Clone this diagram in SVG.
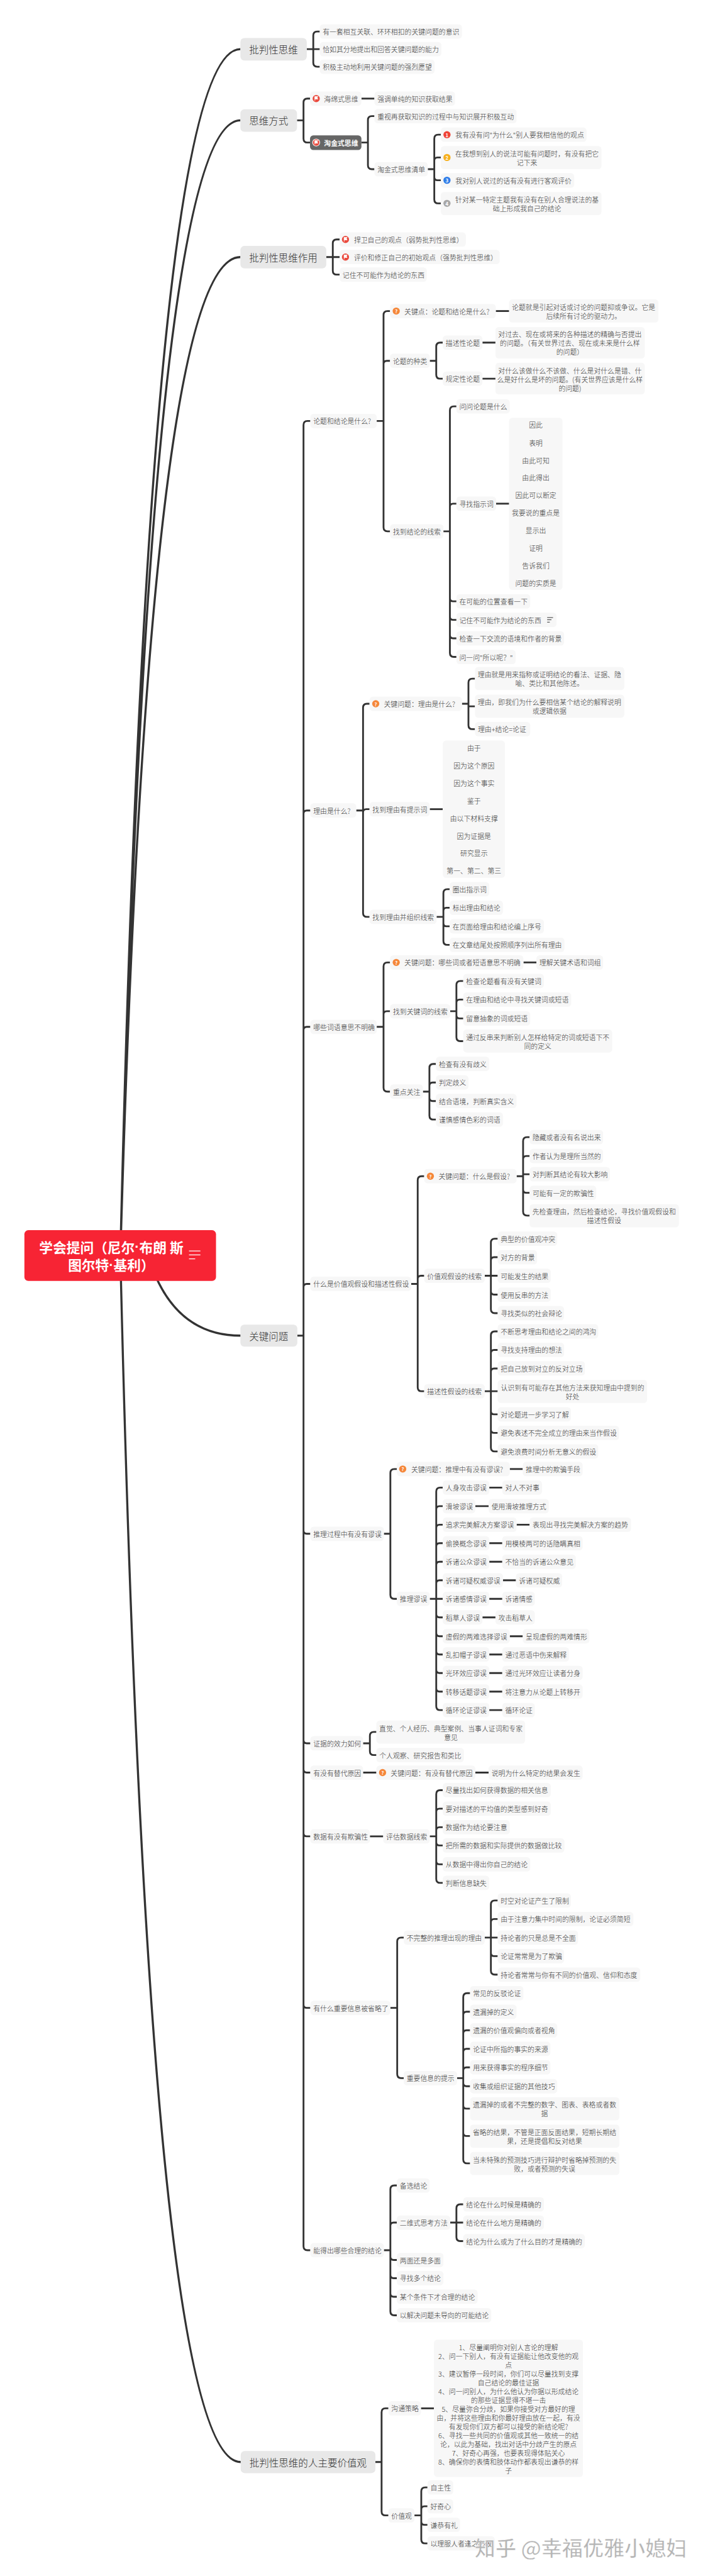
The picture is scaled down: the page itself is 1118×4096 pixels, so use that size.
<svg xmlns="http://www.w3.org/2000/svg" xmlns:xlink="http://www.w3.org/1999/xlink" width="1118" height="4096" viewBox="0 0 1118 4096">
<style>
text{font-family:"Noto Sans CJK SC","Microsoft YaHei",sans-serif;font-weight:300;fill:#333;dominant-baseline:central}
.t{font-size:21px}
.m{font-size:21px;text-anchor:middle}
.l{font-size:30px}
.b{fill:#f7f7f7;rx:10px}
.h{fill:#e8e8e8;rx:12px}
.d{fill:#666;rx:10px}
.c{fill:none;stroke:#333;stroke-width:5.5}
.w{font-size:21px;fill:#fff;font-weight:700}
.i{font-size:15px;fill:#fff;font-weight:700;text-anchor:middle}
.dot{font-family:"Liberation Sans",sans-serif}
</style>
<defs>
<g id="flag"><circle r="11" fill="#ea4a3e"/><path d="M-4-6.5V7M-4-6.5H5L3-2.5L5 1.5H-4Z" fill="#fff" stroke="#fff" stroke-width="1.5"/></g>
<g id="flagd"><circle r="12" fill="#fff"/><circle r="10" fill="#ea4a3e"/><path d="M-4-6V6M-4-6H5L3-2L5 2H-4Z" fill="#fff" stroke="#fff" stroke-width="1.5"/></g>
<g id="q"><circle r="11" fill="#f5873a"/><text class="i" y="0">?</text></g>
<g id="note" fill="none" stroke="#333" stroke-width="2"><path d="M0 0H18M0 7H13M0 14H8"/></g>
</defs>
<g transform="scale(.51735)">
<g id="connectors">
<path class="c" style="stroke-width:6.5" d="M370 3859Q457 151 739 151M370 3859Q457 370 739 370M370 3859Q457 790 739 790M370 3859Q457 7567 740 7567M455 3859Q530 4105 740 4105"/>
<path class="c" d="M943 151H983M983 97H975Q963 97 963 109V193Q963 205 975 205H983"/>
<path class="c" d="M913 370H933M953 303H945Q933 303 933 315V426Q933 438 945 438H953"/>
<path class="c" d="M1111 303H1151"/>
<path class="c" d="M1111 438H1131M1151 357H1143Q1131 357 1131 369V508Q1131 520 1143 520H1151"/>
<path class="c" d="M1315 520H1335M1355 414H1347Q1335 414 1335 426V613Q1335 625 1347 625H1355M1335 494Q1335 484 1345 484H1355M1335 544Q1335 554 1345 554H1355"/>
<path class="c" d="M1003 790H1044M1044 736H1035Q1023 736 1023 748V832Q1023 844 1035 844H1044"/>
<path class="c" d="M914 4105H933M954 1294H945Q933 1294 933 1306V6904Q933 6916 945 6916H954M933 2501Q933 2491 943 2491H954M933 3166Q933 3156 943 3156H954M933 3956Q933 3946 943 3946H954M933 4704Q933 4714 943 4714H954M933 5348Q933 5358 943 5358H954M933 5438Q933 5448 943 5448H954M933 5634Q933 5644 943 5644H954M933 6161Q933 6171 943 6171H954"/>
<path class="c" d="M1158 1294H1179M1199 956H1191Q1179 956 1179 968V1621Q1179 1633 1191 1633H1199M1179 1119Q1179 1109 1189 1109H1199"/>
<path class="c" d="M1524 956H1565"/>
<path class="c" d="M1321 1109H1341M1361 1053H1353Q1341 1053 1341 1065V1152Q1341 1164 1353 1164H1361"/>
<path class="c" d="M1483 1053H1523M1483 1164H1523"/>
<path class="c" d="M1363 1633H1383M1403 1249H1395Q1383 1249 1383 1261V2007Q1383 2019 1395 2019H1403M1383 1558Q1383 1548 1393 1548H1403M1383 1838Q1383 1848 1393 1848H1403M1383 1895Q1383 1905 1393 1905H1403M1383 1952Q1383 1962 1393 1962H1403"/>
<path class="c" d="M1525 1548H1565"/>
<path class="c" d="M1095 2491H1116M1136 2163H1128Q1116 2163 1116 2175V2806Q1116 2818 1128 2818H1136M1116 2497Q1116 2487 1126 2487H1136"/>
<path class="c" d="M1420 2163H1440M1460 2086H1452Q1440 2086 1440 2098V2229Q1440 2241 1452 2241H1460M1440 2171H1460"/>
<path class="c" d="M1321 2487H1361"/>
<path class="c" d="M1342 2818H1363M1382 2733H1375Q1363 2733 1363 2745V2892Q1363 2904 1375 2904H1382M1363 2800Q1363 2790 1372 2790H1382M1363 2837Q1363 2847 1372 2847H1382"/>
<path class="c" d="M1158 3156H1179M1199 2958H1191Q1179 2958 1179 2970V3343Q1179 3355 1191 3355H1199M1179 3118Q1179 3108 1189 3108H1199"/>
<path class="c" d="M1609 2958H1649"/>
<path class="c" d="M1384 3108H1403M1424 3015H1415Q1403 3015 1403 3027V3188Q1403 3200 1415 3200H1424M1403 3082Q1403 3072 1413 3072H1424M1403 3120Q1403 3130 1413 3130H1424"/>
<path class="c" d="M1300 3355H1320M1340 3270H1332Q1320 3270 1320 3282V3429Q1320 3441 1332 3441H1340M1320 3337Q1320 3327 1330 3327H1340M1320 3374Q1320 3384 1330 3384H1340"/>
<path class="c" d="M1264 3946H1284M1304 3615H1296Q1284 3615 1284 3627V4264Q1284 4276 1296 4276H1304M1284 3931Q1284 3921 1294 3921H1304"/>
<path class="c" d="M1588 3615H1608M1628 3495H1620Q1608 3495 1608 3507V3724Q1608 3736 1620 3736H1628M1608 3563Q1608 3553 1618 3553H1628M1608 3609H1628M1608 3656Q1608 3666 1618 3666H1628"/>
<path class="c" d="M1490 3921H1509M1530 3807H1521Q1509 3807 1509 3819V4024Q1509 4036 1521 4036H1530M1509 3874Q1509 3864 1519 3864H1530M1509 3921H1530M1509 3969Q1509 3979 1519 3979H1530"/>
<path class="c" d="M1490 4276H1509M1530 4092H1521Q1509 4092 1509 4104V4449Q1509 4461 1521 4461H1530M1509 4159Q1509 4149 1519 4149H1530M1509 4216Q1509 4206 1519 4206H1530M1509 4276H1530M1509 4337Q1509 4347 1519 4347H1530M1509 4394Q1509 4404 1519 4404H1530"/>
<path class="c" d="M1180 4714H1200M1220 4515H1212Q1200 4515 1200 4527V4902Q1200 4914 1212 4914H1220"/>
<path class="c" d="M1567 4515H1607"/>
<path class="c" d="M1321 4914H1361M1361 4572H1353Q1341 4572 1341 4584V5244Q1341 5256 1353 5256H1361M1341 4639Q1341 4629 1351 4629H1361M1341 4696Q1341 4686 1351 4686H1361M1341 4753Q1341 4743 1351 4743H1361M1341 4810Q1341 4800 1351 4800H1361M1341 4867Q1341 4857 1351 4857H1361M1341 4961Q1341 4971 1351 4971H1361M1341 5019Q1341 5029 1351 5029H1361M1341 5075Q1341 5085 1351 5085H1361M1341 5132Q1341 5142 1351 5142H1361M1341 5189Q1341 5199 1351 5199H1361"/>
<path class="c" d="M1504 4572H1544M1461 4629H1502M1588 4686H1628M1504 4743H1544M1504 4800H1544M1546 4857H1586M1504 4914H1544M1483 4971H1523M1567 5029H1607M1504 5085H1544M1504 5142H1544M1504 5199H1544M1504 5256H1544"/>
<path class="c" d="M1116 5358H1137M1157 5323H1149Q1137 5323 1137 5335V5382Q1137 5394 1149 5394H1157"/>
<path class="c" d="M1116 5448H1157M1461 5448H1502"/>
<path class="c" d="M1137 5644H1178"/>
<path class="c" d="M1321 5644H1341M1361 5502H1353Q1341 5502 1341 5514V5775Q1341 5787 1353 5787H1361M1341 5569Q1341 5559 1351 5559H1361M1341 5626Q1341 5616 1351 5616H1361M1341 5662Q1341 5672 1351 5672H1361M1341 5720Q1341 5730 1351 5730H1361"/>
<path class="c" d="M1200 6171H1221M1241 5955H1233Q1221 5955 1221 5967V6375Q1221 6387 1233 6387H1241"/>
<path class="c" d="M1490 5955H1509M1530 5841H1521Q1509 5841 1509 5853V6057Q1509 6069 1521 6069H1530M1509 5908Q1509 5898 1519 5898H1530M1509 5955H1530M1509 6002Q1509 6012 1519 6012H1530"/>
<path class="c" d="M1405 6387H1424M1445 6126H1436Q1424 6126 1424 6138V6637Q1424 6649 1436 6649H1445M1424 6193Q1424 6183 1434 6183H1445M1424 6250Q1424 6240 1434 6240H1445M1424 6307Q1424 6297 1434 6297H1445M1424 6364Q1424 6354 1434 6354H1445M1424 6402Q1424 6412 1434 6412H1445M1424 6471Q1424 6481 1434 6481H1445M1424 6555Q1424 6565 1434 6565H1445"/>
<path class="c" d="M1180 6916H1200M1220 6717H1212Q1200 6717 1200 6729V7104Q1200 7116 1212 7116H1220M1200 6841Q1200 6831 1210 6831H1220M1200 6936Q1200 6946 1210 6946H1220M1200 6992Q1200 7002 1210 7002H1220M1200 7049Q1200 7059 1210 7059H1220"/>
<path class="c" d="M1384 6831H1424M1424 6775H1415Q1403 6775 1403 6787V6876Q1403 6888 1415 6888H1424"/>
<path class="c" d="M1154 7567H1173M1194 7402H1185Q1173 7402 1173 7414V7719Q1173 7731 1185 7731H1194"/>
<path class="c" d="M1294 7402H1334"/>
<path class="c" d="M1274 7731H1295M1314 7645H1307Q1295 7645 1295 7657V7805Q1295 7817 1307 7817H1314M1295 7713Q1295 7703 1305 7703H1314M1295 7750Q1295 7760 1305 7760H1314"/>
</g>

<g id="root"><rect x="75" y="3781" width="589" height="156" rx="12" fill="#f72434"/><text x="342" y="3832" text-anchor="middle" font-size="42" style="font-weight:700;fill:#fff">学会提问（尼尔<tspan class="dot">·</tspan>布朗 斯</text><text x="342" y="3887" text-anchor="middle" font-size="42" style="font-weight:700;fill:#fff">图尔特<tspan class="dot">·</tspan>基利）</text><path d="M581 3845H616M581 3857H616M581 3869H600" stroke="#fff" stroke-width="2.5" fill="none"/></g>

<g id="l1a"><rect class="h" x="739" y="117" width="204" height="69"/><text class="l" x="766" y="151">批判性思维</text></g>
<g id="n1"><rect class="b" x="983" y="75" width="437" height="44"/><text class="t" x="992" y="97">有一套相互关联、环环相扣的关键问题的意识</text></g>
<g id="n2"><rect class="b" x="983" y="129" width="374" height="44"/><text class="t" x="992" y="151">恰如其分地提出和回答关键问题的能力</text></g>
<g id="n3"><rect class="b" x="983" y="183" width="353" height="44"/><text class="t" x="992" y="205">积极主动地利用关键问题的强烈愿望</text></g>

<g id="l1b"><rect class="h" x="739" y="336" width="174" height="69"/><text class="l" x="766" y="370">思维方式</text></g>
<g id="n4"><rect class="b" x="953" y="281" width="158" height="44"/><use href="#flag" x="972" y="303"/><text class="t" x="996" y="303">海绵式思维</text></g>
<g id="n5"><rect class="b" x="1151" y="281" width="248" height="44"/><text class="t" x="1160" y="303">强调单纯的知识获取结果</text></g>
<g id="n6"><rect class="d" x="953" y="416" width="158" height="45"/><use href="#flagd" x="972" y="438"/><text class="w" x="996" y="438">淘金式思维</text></g>
<g id="n7"><rect class="b" x="1151" y="335" width="437" height="44"/><text class="t" x="1160" y="357">重视再获取知识的过程中与知识展开积极互动</text></g>
<g id="n8"><rect class="b" x="1151" y="498" width="164" height="44"/><text class="t" x="1160" y="520">淘金式思维清单</text></g>
<g id="n9"><rect class="b" x="1355" y="392" width="448" height="44"/><circle cx="1374" cy="414" r="11" fill="#ef4437"/><text class="i" x="1374" y="414">1</text><text class="t" x="1400" y="414">我有没有问"为什么"别人要我相信他的观点</text></g>
<g id="n10"><rect class="b" x="1355" y="449" width="494" height="71"/><circle cx="1374" cy="484" r="11" fill="#f6b01e"/><text class="i" x="1374" y="484">2</text><text class="m" x="1620" y="471">在我想到别人的说法可能有问题时，有没有把它</text><text class="m" x="1620" y="498">记下来</text></g>
<g id="n11"><rect class="b" x="1355" y="532" width="410" height="45"/><circle cx="1374" cy="554" r="11" fill="#2f7de8"/><text class="i" x="1374" y="554">3</text><text class="t" x="1400" y="554">我对别人说过的话有没有进行客观评价</text></g>
<g id="n12"><rect class="b" x="1355" y="590" width="494" height="71"/><circle cx="1374" cy="625" r="11" fill="#a8a8a8"/><text class="i" x="1374" y="625">4</text><text class="m" x="1620" y="612">针对某一特定主题我有没有在别人合理说法的基</text><text class="m" x="1620" y="639">础上形成我自己的结论</text></g>

<g id="l1c"><rect class="h" x="739" y="756" width="264" height="69"/><text class="l" x="766" y="790">批判性思维作用</text></g>
<g id="n13"><rect class="b" x="1044" y="714" width="388" height="44"/><use href="#flag" x="1062" y="736"/><text class="t" x="1088" y="736">捍卫自己的观点（弱势批判性思维）</text></g>
<g id="n14"><rect class="b" x="1044" y="768" width="492" height="44"/><use href="#flag" x="1062" y="790"/><text class="t" x="1088" y="790">评价和修正自己的初始观点（强势批判性思维）</text></g>
<g id="n15"><rect class="b" x="1044" y="822" width="268" height="44"/><text class="t" x="1053" y="844">记住不可能作为结论的东西</text></g>

<g id="l1d"><rect class="h" x="739" y="4071" width="175" height="68"/><text class="l" x="766" y="4105">关键问题</text></g>

<g id="a0"><rect class="b" x="954" y="1272" width="204" height="44"/><text class="t" x="963" y="1294">论题和结论是什么?</text></g>
<g id="a1"><rect class="b" x="1199" y="934" width="325" height="44"/><use href="#q" x="1218" y="956"/><text class="t" x="1243" y="956">关键点：论题和结论是什么?</text></g>
<g id="a2"><rect class="b" x="1565" y="920" width="459" height="71"/><text class="m" x="1794" y="943">论题就是引起对话或讨论的问题抑或争议。它是</text><text class="m" x="1794" y="970">后续所有讨论的驱动力。</text></g>
<g id="a3"><rect class="b" x="1199" y="1087" width="122" height="44"/><text class="t" x="1208" y="1109">论题的种类</text></g>
<g id="a4"><rect class="b" x="1361" y="1031" width="122" height="44"/><text class="t" x="1370" y="1053">描述性论题</text></g>
<g id="a5"><rect class="b" x="1523" y="1005" width="459" height="97"/><text class="m" x="1752" y="1027">对过去、现在或将来的各种描述的精确与否提出</text><text class="m" x="1752" y="1054">的问题。（有关世界过去、现在或未来是什么样</text><text class="m" x="1752" y="1081">的问题）</text></g>
<g id="a6"><rect class="b" x="1361" y="1142" width="122" height="44"/><text class="t" x="1370" y="1164">规定性论题</text></g>
<g id="a7"><rect class="b" x="1523" y="1115" width="459" height="97"/><text class="m" x="1752" y="1138">对什么该做什么不该做、什么是对什么是错、什</text><text class="m" x="1752" y="1165">么是好什么是坏的问题。(有关世界应该是什么样</text><text class="m" x="1752" y="1192">的问题)</text></g>
<g id="a8"><rect class="b" x="1199" y="1611" width="164" height="44"/><text class="t" x="1208" y="1633">找到结论的线索</text></g>
<g id="a9"><rect class="b" x="1403" y="1227" width="164" height="44"/><text class="t" x="1412" y="1249">问问论题是什么</text></g>
<g id="a10"><rect class="b" x="1403" y="1526" width="122" height="44"/><text class="t" x="1412" y="1548">寻找指示词</text></g>
<g id="a11"><rect class="b" x="1565" y="1284" width="164" height="529"/><text class="m" x="1647" y="1305">因此</text><text class="m" x="1647" y="1360">表明</text><text class="m" x="1647" y="1414">由此可知</text><text class="m" x="1647" y="1468">由此得出</text><text class="m" x="1647" y="1522">因此可以断定</text><text class="m" x="1647" y="1576">我要说的重点是</text><text class="m" x="1647" y="1630">显示出</text><text class="m" x="1647" y="1684">证明</text><text class="m" x="1647" y="1738">告诉我们</text><text class="m" x="1647" y="1792">问题的实质是</text></g>
<g id="a12"><rect class="b" x="1403" y="1826" width="227" height="44"/><text class="t" x="1412" y="1848">在可能的位置查看一下</text></g>
<g id="a13"><rect class="b" x="1403" y="1883" width="308" height="44"/><text class="t" x="1412" y="1905">记住不可能作为结论的东西</text><use href="#note" x="1682" y="1898"/></g>
<g id="a14"><rect class="b" x="1403" y="1940" width="331" height="44"/><text class="t" x="1412" y="1962">检查一下交流的语境和作者的背景</text></g>
<g id="a15"><rect class="b" x="1403" y="1997" width="182" height="44"/><text class="t" x="1412" y="2019">问一问"所以呢？"</text></g>

<g id="b0"><rect class="b" x="954" y="2469" width="141" height="44"/><text class="t" x="963" y="2491">理由是什么?</text></g>
<g id="b1"><rect class="b" x="1136" y="2141" width="284" height="44"/><use href="#q" x="1155" y="2163"/><text class="t" x="1180" y="2163">关键问题：理由是什么?</text></g>
<g id="b2"><rect class="b" x="1460" y="2050" width="459" height="71"/><text class="m" x="1689" y="2073">理由就是用来指称或证明结论的看法、证据、隐</text><text class="m" x="1689" y="2100">喻、类比和其他陈述。</text></g>
<g id="b3"><rect class="b" x="1460" y="2135" width="459" height="71"/><text class="m" x="1689" y="2157">理由，即我们为什么要相信某个结论的解释说明</text><text class="m" x="1689" y="2185">或逻辑依据</text></g>
<g id="b4"><rect class="b" x="1460" y="2219" width="170" height="44"/><text class="t" x="1469" y="2241">理由+结论=论证</text></g>
<g id="b5"><rect class="b" x="1136" y="2465" width="185" height="44"/><text class="t" x="1145" y="2487">找到理由有提示词</text></g>
<g id="b6"><rect class="b" x="1361" y="2276" width="191" height="422"/><text class="m" x="1457" y="2298">由于</text><text class="m" x="1457" y="2352">因为这个原因</text><text class="m" x="1457" y="2406">因为这个事实</text><text class="m" x="1457" y="2460">鉴于</text><text class="m" x="1457" y="2514">由以下材料支撑</text><text class="m" x="1457" y="2568">因为证据是</text><text class="m" x="1457" y="2622">研究显示</text><text class="m" x="1457" y="2676">第一、第二、第三</text></g>
<g id="b7"><rect class="b" x="1136" y="2796" width="206" height="44"/><text class="t" x="1145" y="2818">找到理由并组织线索</text></g>
<g id="b8"><rect class="b" x="1382" y="2711" width="122" height="44"/><text class="t" x="1391" y="2733">圈出指示词</text></g>
<g id="b9"><rect class="b" x="1382" y="2768" width="164" height="44"/><text class="t" x="1391" y="2790">标出理由和结论</text></g>
<g id="b10"><rect class="b" x="1382" y="2825" width="290" height="44"/><text class="t" x="1391" y="2847">在页面给理由和结论编上序号</text></g>
<g id="b11"><rect class="b" x="1382" y="2882" width="353" height="44"/><text class="t" x="1391" y="2904">在文章结尾处按照顺序列出所有理由</text></g>

<g id="c0"><rect class="b" x="954" y="3134" width="204" height="44"/><text class="t" x="963" y="3156">哪些词语意思不明确</text></g>
<g id="c1"><rect class="b" x="1199" y="2936" width="410" height="44"/><use href="#q" x="1218" y="2958"/><text class="t" x="1243" y="2958">关键问题：哪些词或者短语意思不明确</text></g>
<g id="c2"><rect class="b" x="1649" y="2936" width="205" height="44"/><text class="t" x="1658" y="2958">理解关键术语和词组</text></g>
<g id="c3"><rect class="b" x="1199" y="3086" width="185" height="44"/><text class="t" x="1208" y="3108">找到关键词的线索</text></g>
<g id="c4"><rect class="b" x="1424" y="2993" width="248" height="44"/><text class="t" x="1433" y="3015">检查论题看有没有关键词</text></g>
<g id="c5"><rect class="b" x="1424" y="3050" width="332" height="44"/><text class="t" x="1433" y="3072">在理由和结论中寻找关键词或短语</text></g>
<g id="c6"><rect class="b" x="1424" y="3108" width="206" height="44"/><text class="t" x="1433" y="3130">留意抽象的词或短语</text></g>
<g id="c7"><rect class="b" x="1424" y="3164" width="458" height="71"/><text class="m" x="1653" y="3187">通过反串来判断别人怎样给特定的词或短语下不</text><text class="m" x="1653" y="3214">同的定义</text></g>
<g id="c8"><rect class="b" x="1199" y="3333" width="101" height="44"/><text class="t" x="1208" y="3355">重点关注</text></g>
<g id="c9"><rect class="b" x="1340" y="3248" width="164" height="44"/><text class="t" x="1349" y="3270">检查有没有歧义</text></g>
<g id="c10"><rect class="b" x="1340" y="3305" width="100" height="44"/><text class="t" x="1349" y="3327">判定歧义</text></g>
<g id="c11"><rect class="b" x="1340" y="3362" width="248" height="44"/><text class="t" x="1349" y="3384">结合语境，判断真实含义</text></g>
<g id="c12"><rect class="b" x="1340" y="3419" width="206" height="44"/><text class="t" x="1349" y="3441">谨慎感情色彩的词语</text></g>

<g id="d0"><rect class="b" x="954" y="3924" width="310" height="44"/><text class="t" x="963" y="3946">什么是价值观假设和描述性假设</text></g>
<g id="d1"><rect class="b" x="1304" y="3593" width="284" height="44"/><use href="#q" x="1323" y="3615"/><text class="t" x="1348" y="3615">关键问题：什么是假设?</text></g>
<g id="d2"><rect class="b" x="1628" y="3473" width="226" height="44"/><text class="t" x="1637" y="3495">隐藏或者没有名说出来</text></g>
<g id="d3"><rect class="b" x="1628" y="3531" width="226" height="44"/><text class="t" x="1637" y="3553">作者认为是理所当然的</text></g>
<g id="d4"><rect class="b" x="1628" y="3587" width="247" height="44"/><text class="t" x="1637" y="3609">对判断其结论有较大影响</text></g>
<g id="d5"><rect class="b" x="1628" y="3644" width="205" height="44"/><text class="t" x="1637" y="3666">可能有一定的欺骗性</text></g>
<g id="d6"><rect class="b" x="1628" y="3701" width="459" height="71"/><text class="m" x="1857" y="3723">先检查理由，然后检查结论，寻找价值观假设和</text><text class="m" x="1857" y="3750">描述性假设</text></g>
<g id="d7"><rect class="b" x="1304" y="3899" width="186" height="44"/><text class="t" x="1313" y="3921">价值观假设的线索</text></g>
<g id="d8"><rect class="b" x="1530" y="3785" width="183" height="44"/><text class="t" x="1539" y="3807">典型的价值观冲突</text></g>
<g id="d9"><rect class="b" x="1530" y="3842" width="121" height="44"/><text class="t" x="1539" y="3864">对方的背景</text></g>
<g id="d10"><rect class="b" x="1530" y="3899" width="163" height="44"/><text class="t" x="1539" y="3921">可能发生的结果</text></g>
<g id="d11"><rect class="b" x="1530" y="3957" width="163" height="44"/><text class="t" x="1539" y="3979">使用反串的方法</text></g>
<g id="d12"><rect class="b" x="1530" y="4014" width="204" height="44"/><text class="t" x="1539" y="4036">寻找类似的社会辩论</text></g>
<g id="d13"><rect class="b" x="1304" y="4254" width="186" height="44"/><text class="t" x="1313" y="4276">描述性假设的线索</text></g>
<g id="d14"><rect class="b" x="1530" y="4070" width="309" height="44"/><text class="t" x="1539" y="4092">不断思考理由和结论之间的鸿沟</text></g>
<g id="d15"><rect class="b" x="1530" y="4127" width="204" height="44"/><text class="t" x="1539" y="4149">寻找支持理由的想法</text></g>
<g id="d16"><rect class="b" x="1530" y="4184" width="268" height="44"/><text class="t" x="1539" y="4206">把自己放到对立的反对立场</text></g>
<g id="d17"><rect class="b" x="1530" y="4241" width="459" height="71"/><text class="m" x="1760" y="4264">认识到有可能存在其他方法来获知理由中提到的</text><text class="m" x="1760" y="4291">好处</text></g>
<g id="d18"><rect class="b" x="1530" y="4325" width="225" height="44"/><text class="t" x="1539" y="4347">对论题进一步学习了解</text></g>
<g id="d19"><rect class="b" x="1530" y="4382" width="373" height="44"/><text class="t" x="1539" y="4404">避免表述不完全成立的理由来当作假设</text></g>
<g id="d20"><rect class="b" x="1530" y="4439" width="309" height="44"/><text class="t" x="1539" y="4461">避免浪费时间分析无意义的假设</text></g>

<g id="e0"><rect class="b" x="954" y="4692" width="226" height="44"/><text class="t" x="963" y="4714">推理过程中有没有谬误</text></g>
<g id="e1"><rect class="b" x="1220" y="4493" width="347" height="44"/><use href="#q" x="1238" y="4515"/><text class="t" x="1264" y="4515">关键问题：推理中有没有谬误?</text></g>
<g id="e2"><rect class="b" x="1607" y="4493" width="184" height="44"/><text class="t" x="1616" y="4515">推理中的欺骗手段</text></g>
<g id="e3"><rect class="b" x="1220" y="4892" width="101" height="44"/><text class="t" x="1229" y="4914">推理谬误</text></g>
<g id="e4"><rect class="b" x="1361" y="4550" width="143" height="44"/><text class="t" x="1370" y="4572">人身攻击谬误</text></g>
<g id="e5"><rect class="b" x="1544" y="4550" width="122" height="44"/><text class="t" x="1553" y="4572">对人不对事</text></g>
<g id="e6"><rect class="b" x="1361" y="4607" width="100" height="44"/><text class="t" x="1370" y="4629">滑坡谬误</text></g>
<g id="e7"><rect class="b" x="1502" y="4607" width="185" height="44"/><text class="t" x="1511" y="4629">使用滑坡推理方式</text></g>
<g id="e8"><rect class="b" x="1361" y="4664" width="227" height="44"/><text class="t" x="1370" y="4686">追求完美解决方案谬误</text></g>
<g id="e9"><rect class="b" x="1628" y="4664" width="312" height="44"/><text class="t" x="1637" y="4686">表现出寻找完美解决方案的趋势</text></g>
<g id="e10"><rect class="b" x="1361" y="4721" width="143" height="44"/><text class="t" x="1370" y="4743">偷换概念谬误</text></g>
<g id="e11"><rect class="b" x="1544" y="4721" width="247" height="44"/><text class="t" x="1553" y="4743">用模棱两可的话隐瞒真相</text></g>
<g id="e12"><rect class="b" x="1361" y="4778" width="143" height="44"/><text class="t" x="1370" y="4800">诉诸公众谬误</text></g>
<g id="e13"><rect class="b" x="1544" y="4778" width="226" height="44"/><text class="t" x="1553" y="4800">不恰当的诉诸公众意见</text></g>
<g id="e14"><rect class="b" x="1361" y="4835" width="185" height="44"/><text class="t" x="1370" y="4857">诉诸可疑权威谬误</text></g>
<g id="e15"><rect class="b" x="1586" y="4835" width="142" height="44"/><text class="t" x="1595" y="4857">诉诸可疑权威</text></g>
<g id="e16"><rect class="b" x="1361" y="4892" width="143" height="44"/><text class="t" x="1370" y="4914">诉诸感情谬误</text></g>
<g id="e17"><rect class="b" x="1544" y="4892" width="100" height="44"/><text class="t" x="1553" y="4914">诉诸情感</text></g>
<g id="e18"><rect class="b" x="1361" y="4949" width="122" height="44"/><text class="t" x="1370" y="4971">稻草人谬误</text></g>
<g id="e19"><rect class="b" x="1523" y="4949" width="121" height="44"/><text class="t" x="1532" y="4971">攻击稻草人</text></g>
<g id="e20"><rect class="b" x="1361" y="5007" width="206" height="44"/><text class="t" x="1370" y="5029">虚假的两难选择谬误</text></g>
<g id="e21"><rect class="b" x="1607" y="5007" width="205" height="44"/><text class="t" x="1616" y="5029">呈现虚假的两难情形</text></g>
<g id="e22"><rect class="b" x="1361" y="5063" width="143" height="44"/><text class="t" x="1370" y="5085">乱扣帽子谬误</text></g>
<g id="e23"><rect class="b" x="1544" y="5063" width="205" height="44"/><text class="t" x="1553" y="5085">通过恶语中伤来解释</text></g>
<g id="e24"><rect class="b" x="1361" y="5120" width="143" height="44"/><text class="t" x="1370" y="5142">光环效应谬误</text></g>
<g id="e25"><rect class="b" x="1544" y="5120" width="247" height="44"/><text class="t" x="1553" y="5142">通过光环效应让读者分身</text></g>
<g id="e26"><rect class="b" x="1361" y="5177" width="143" height="44"/><text class="t" x="1370" y="5199">转移话题谬误</text></g>
<g id="e27"><rect class="b" x="1544" y="5177" width="247" height="44"/><text class="t" x="1553" y="5199">将注意力从论题上转移开</text></g>
<g id="e28"><rect class="b" x="1361" y="5234" width="143" height="44"/><text class="t" x="1370" y="5256">循环论证谬误</text></g>
<g id="e29"><rect class="b" x="1544" y="5234" width="100" height="44"/><text class="t" x="1553" y="5256">循环论证</text></g>

<g id="f0"><rect class="b" x="954" y="5336" width="162" height="44"/><text class="t" x="963" y="5358">证据的效力如何</text></g>
<g id="f1"><rect class="b" x="1157" y="5288" width="457" height="71"/><text class="m" x="1386" y="5311">直觉、个人经历、典型案例、当事人证词和专家</text><text class="m" x="1386" y="5338">意见</text></g>
<g id="f2"><rect class="b" x="1157" y="5372" width="269" height="44"/><text class="t" x="1166" y="5394">个人观察、研究报告和类比</text></g>
<g id="g0"><rect class="b" x="954" y="5426" width="162" height="44"/><text class="t" x="963" y="5448">有没有替代原因</text></g>
<g id="g1"><rect class="b" x="1157" y="5426" width="304" height="44"/><use href="#q" x="1176" y="5448"/><text class="t" x="1201" y="5448">关键问题：有没有替代原因</text></g>
<g id="g2"><rect class="b" x="1502" y="5426" width="289" height="44"/><text class="t" x="1511" y="5448">说明为什么特定的结果会发生</text></g>

<g id="h0"><rect class="b" x="954" y="5622" width="183" height="44"/><text class="t" x="963" y="5644">数据有没有欺骗性</text></g>
<g id="h1"><rect class="b" x="1178" y="5622" width="143" height="44"/><text class="t" x="1187" y="5644">评估数据线索</text></g>
<g id="h2"><rect class="b" x="1361" y="5480" width="332" height="44"/><text class="t" x="1370" y="5502">尽量找出如何获得数据的相关信息</text></g>
<g id="h3"><rect class="b" x="1361" y="5537" width="332" height="44"/><text class="t" x="1370" y="5559">要对描述的平均值的类型感到好奇</text></g>
<g id="h4"><rect class="b" x="1361" y="5594" width="206" height="44"/><text class="t" x="1370" y="5616">数据作为结论要注意</text></g>
<g id="h5"><rect class="b" x="1361" y="5650" width="374" height="44"/><text class="t" x="1370" y="5672">把所需的数据和实际提供的数据做比较</text></g>
<g id="h6"><rect class="b" x="1361" y="5708" width="269" height="44"/><text class="t" x="1370" y="5730">从数据中得出你自己的结论</text></g>
<g id="h7"><rect class="b" x="1361" y="5765" width="143" height="44"/><text class="t" x="1370" y="5787">判断信息缺失</text></g>

<g id="i0"><rect class="b" x="954" y="6149" width="246" height="44"/><text class="t" x="963" y="6171">有什么重要信息被省略了</text></g>
<g id="i1"><rect class="b" x="1241" y="5933" width="249" height="44"/><text class="t" x="1250" y="5955">不完整的推理出现的理由</text></g>
<g id="i2"><rect class="b" x="1530" y="5819" width="225" height="44"/><text class="t" x="1539" y="5841">时空对论证产生了限制</text></g>
<g id="i3"><rect class="b" x="1530" y="5876" width="417" height="44"/><text class="t" x="1539" y="5898">由于注意力集中时间的限制，论证必须简短</text></g>
<g id="i4"><rect class="b" x="1530" y="5933" width="247" height="44"/><text class="t" x="1539" y="5955">持论者的只是总是不全面</text></g>
<g id="i5"><rect class="b" x="1530" y="5990" width="204" height="44"/><text class="t" x="1539" y="6012">论证常常是为了欺骗</text></g>
<g id="i6"><rect class="b" x="1530" y="6047" width="438" height="44"/><text class="t" x="1539" y="6069">持论者常常与你有不同的价值观、信仰和态度</text></g>
<g id="i7"><rect class="b" x="1241" y="6365" width="164" height="44"/><text class="t" x="1250" y="6387">重要信息的提示</text></g>
<g id="i8"><rect class="b" x="1445" y="6104" width="164" height="44"/><text class="t" x="1454" y="6126">常见的反驳论证</text></g>
<g id="i9"><rect class="b" x="1445" y="6161" width="143" height="44"/><text class="t" x="1454" y="6183">遗漏掉的定义</text></g>
<g id="i10"><rect class="b" x="1445" y="6218" width="268" height="44"/><text class="t" x="1454" y="6240">遗漏的价值观偏向或者视角</text></g>
<g id="i11"><rect class="b" x="1445" y="6275" width="247" height="44"/><text class="t" x="1454" y="6297">论证中所指的事实的来源</text></g>
<g id="i12"><rect class="b" x="1445" y="6332" width="247" height="44"/><text class="t" x="1454" y="6354">用来获得事实的程序细节</text></g>
<g id="i13"><rect class="b" x="1445" y="6390" width="268" height="44"/><text class="t" x="1454" y="6412">收集或组织证据的其他技巧</text></g>
<g id="i14"><rect class="b" x="1445" y="6446" width="459" height="71"/><text class="m" x="1674" y="6468">遗漏掉的或者不完整的数字、图表、表格或者数</text><text class="m" x="1674" y="6495">据</text></g>
<g id="i15"><rect class="b" x="1445" y="6530" width="459" height="71"/><text class="m" x="1674" y="6553">省略的结果，不管是正面反面结果，短期长期结</text><text class="m" x="1674" y="6580">果，还是提倡和反对结果</text></g>
<g id="i16"><rect class="b" x="1445" y="6614" width="459" height="71"/><text class="m" x="1674" y="6637">当未特殊的预测技巧进行辩护时省略掉预测的失</text><text class="m" x="1674" y="6664">败，或者预测的失误</text></g>

<g id="j0"><rect class="b" x="954" y="6894" width="226" height="44"/><text class="t" x="963" y="6916">能得出哪些合理的结论</text></g>
<g id="j1"><rect class="b" x="1220" y="6695" width="101" height="44"/><text class="t" x="1229" y="6717">备选结论</text></g>
<g id="j2"><rect class="b" x="1220" y="6809" width="164" height="44"/><text class="t" x="1229" y="6831">二维式思考方法</text></g>
<g id="j3"><rect class="b" x="1424" y="6753" width="248" height="44"/><text class="t" x="1433" y="6775">结论在什么时候是精确的</text></g>
<g id="j4"><rect class="b" x="1424" y="6809" width="248" height="44"/><text class="t" x="1433" y="6831">结论在什么地方是精确的</text></g>
<g id="j5"><rect class="b" x="1424" y="6866" width="374" height="44"/><text class="t" x="1433" y="6888">结论为什么或为了什么目的才是精确的</text></g>
<g id="j6"><rect class="b" x="1220" y="6924" width="143" height="44"/><text class="t" x="1229" y="6946">两面还是多面</text></g>
<g id="j7"><rect class="b" x="1220" y="6980" width="143" height="44"/><text class="t" x="1229" y="7002">寻找多个结论</text></g>
<g id="j8"><rect class="b" x="1220" y="7037" width="248" height="44"/><text class="t" x="1229" y="7059">某个条件下才合理的结论</text></g>
<g id="j9"><rect class="b" x="1220" y="7094" width="290" height="44"/><text class="t" x="1229" y="7116">以解决问题未导向的可能结论</text></g>

<g id="l1e"><rect class="h" x="740" y="7533" width="414" height="68"/><text class="l" x="767" y="7567">批判性思维的人主要价值观</text></g>
<g id="k1"><rect class="b" x="1194" y="7380" width="100" height="44"/><text class="t" x="1203" y="7402">沟通策略</text></g>
<g id="k2"><rect class="b" x="1334" y="7191" width="458" height="422"/><text class="m" x="1563" y="7214">1、尽量阐明你对别人言论的理解</text><text class="m" x="1563" y="7241">2、问一下别人，有没有证据能让他改变他的观</text><text class="m" x="1563" y="7268">点</text><text class="m" x="1563" y="7295">3、建议暂停一段时间，你们可以尽量找到支撑</text><text class="m" x="1563" y="7322">自己结论的最佳证据</text><text class="m" x="1563" y="7349">4、问一问别人，为什么他认为你据以形成结论</text><text class="m" x="1563" y="7376">的那些证据显得不堪一击</text><text class="m" x="1563" y="7403">5、尽量弥合分歧，如果你接受对方最好的理</text><text class="m" x="1563" y="7430">由，并将这些理由和你最好理由放在一起，有没</text><text class="m" x="1563" y="7457">有发现你们双方都可以接受的新结论呢?</text><text class="m" x="1563" y="7484">6、寻找一些共同的价值观或其他一致统一的结</text><text class="m" x="1563" y="7511">论，以此为基础，找出对话中分歧产生的原点</text><text class="m" x="1563" y="7538">7、好奇心再强，也要表现得体贴关心</text><text class="m" x="1563" y="7565">8、确保你的表情和肢体动作都表现出谦恭的样</text><text class="m" x="1563" y="7592">子</text></g>
<g id="k3"><rect class="b" x="1194" y="7709" width="80" height="44"/><text class="t" x="1203" y="7731">价值观</text></g>
<g id="k4"><rect class="b" x="1314" y="7623" width="79" height="44"/><text class="t" x="1323" y="7645">自主性</text></g>
<g id="k5"><rect class="b" x="1314" y="7681" width="79" height="44"/><text class="t" x="1323" y="7703">好奇心</text></g>
<g id="k6"><rect class="b" x="1314" y="7738" width="100" height="44"/><text class="t" x="1323" y="7760">谦恭有礼</text></g>
<g id="k7"><rect class="b" x="1314" y="7795" width="207" height="44"/><text class="t" x="1323" y="7817">以理服人者逢之必敬</text></g>

<g id="watermark"><text x="1459" y="7828" font-size="64" style="fill:#b5b5b5;font-weight:500;stroke:#fff;stroke-width:1">知乎 @幸福优雅小媳妇</text></g>
</g>
</svg>
